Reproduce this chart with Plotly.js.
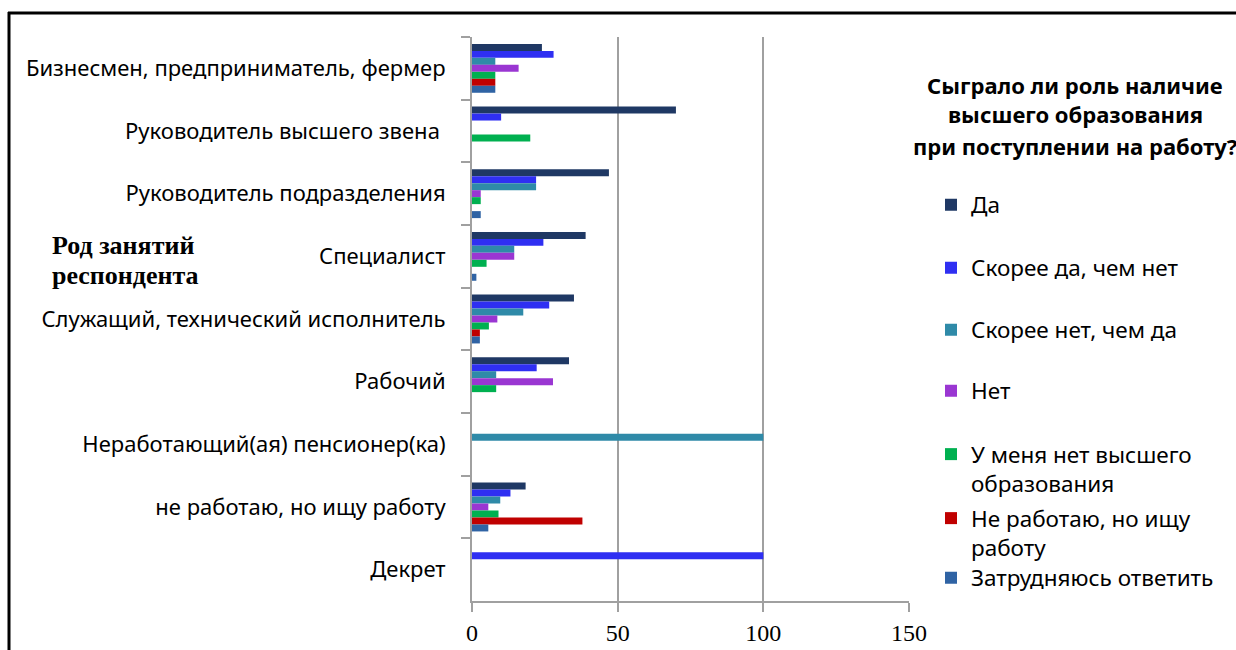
<!DOCTYPE html>
<html>
<head>
<meta charset="utf-8">
<script src="https://cdn.plot.ly/plotly-3.0.1.min.js"></script>
<style>
html,body{margin:0;padding:0;background:#fff;}
#chart{width:1236px;height:650px;}
</style>
</head>
<body>
<div id="chart"></div>
<script>
const categories = [
  "Бизнесмен, предприниматель, фермер",
  "Руководитель высшего звена\u00a0",
  "Руководитель подразделения",
  "Специалист",
  "Служащий, технический исполнитель",
  "Рабочий",
  "Неработающий(ая) пенсионер(ка)",
  "не работаю, но ищу работу",
  "Декрет"
];
const seriesNames = [
  "Да",
  "Скорее да, чем нет",
  "Скорее нет, чем да",
  "Нет",
  "У меня нет высшего<br>образования",
  "Не работаю, но ищу<br>работу",
  "Затрудняюсь ответить"
];
const da         = [24, 70, 47, 39,   35,   33.3, 0,   18.4, 0];
const skoreeDa   = [28, 10, 22, 24.5, 26.5, 22.2, 0,   13.2, 100];
const skoreeNet  = [8,  0,  22, 14.5, 17.6, 8.3,  100, 9.7,  0];
const net        = [16, 0,  3,  14.5, 8.7,  27.8, 0,   5.6,  0];
const noHigher   = [8,  20, 3,  5,    5.8,  8.3,  0,   9.1,  0];
const notWorking = [8,  0,  0,  0,    2.7,  0,    0,   37.9, 0];
const hardToSay  = [8,  0,  3,  1.5,  2.7,  0,    0,   5.6,  0];
const xTicks = [0, 50, 100, 150];
const legendTitleLines = ["Сыграло ли роль наличие", "высшего образования", "при поступлении на работу?"];
const yTitleLines = ["Род занятий", "респондента"];

const seriesValues = [da, skoreeDa, skoreeNet, net, noHigher, notWorking, hardToSay];
const colors = ["#1f3864", "#2f2ff2", "#2f8aa8", "#9a36d2", "#00b050", "#c00000", "#2f63a4"];
const legendCenters = [205, 268, 330, 391, 469, 533, 578];

const W = 1236, H = 650;
const px = x => x / W;
const py = y => 1 - y / H;
const sans = "Noto Sans";

const traces = seriesValues.map((vals, i) => ({
  type: "bar",
  orientation: "h",
  name: seriesNames[i],
  x: vals,
  y: categories,
  marker: {color: colors[i]},
  legend: i === 0 ? "legend" : "legend" + (i + 1),
  hoverinfo: "x+name"
}));

const layout = {
  width: W, height: H,
  margin: {l: 0, r: 0, t: 0, b: 0},
  paper_bgcolor: "#fff",
  plot_bgcolor: "#fff",
  barmode: "group",
  bargap: 0.22,
  bargroupgap: 0,
  font: {family: sans, color: "#000"},
  xaxis: {
    domain: [px(472), px(909)],
    range: [0, 150],
    tickvals: xTicks,
    ticktext: xTicks.map(String),
    ticks: "outside", ticklen: 9, tickwidth: 2, tickcolor: "#a0a0a0",
    showline: true, linecolor: "#a0a0a0", linewidth: 2,
    showgrid: true, gridcolor: "#a0a0a0", gridwidth: 2,
    zeroline: false,
    tickfont: {family: "Liberation Serif", size: 24, color: "#000"},
    fixedrange: true
  },
  yaxis: {
    domain: [py(601), py(37)],
    type: "category",
    autorange: "reversed",
    tickson: "boundaries",
    ticks: "outside", ticklen: 9, tickwidth: 2, tickcolor: "#a0a0a0",
    showline: true, linecolor: "#a0a0a0", linewidth: 2,
    showgrid: false, zeroline: false,
    ticklabelstandoff: 20,
    tickfont: {family: sans, size: 22, color: "#000"},
    fixedrange: true
  },
  shapes: [
    {type: "line", xref: "paper", yref: "paper", x0: px(9), x1: px(9), y0: py(12), y1: py(650), line: {color: "#000", width: 3}},
    {type: "line", xref: "paper", yref: "paper", x0: px(8), x1: px(1236), y0: py(13), y1: py(13), line: {color: "#000", width: 3}}
  ],
  annotations: [],
  showlegend: true
};

legendTitleLines.forEach((t, i) => {
  layout.annotations.push({
    xref: "paper", yref: "paper", x: px(1075), y: py([85, 114, 146][i]),
    xanchor: "center", yanchor: "middle", showarrow: false,
    text: "<b>" + t + "</b>", font: {family: sans, size: 22, color: "#000"}
  });
});
yTitleLines.forEach((t, i) => {
  layout.annotations.push({
    xref: "paper", yref: "paper", x: px(50), y: py([245, 275][i]),
    xanchor: "left", yanchor: "middle", showarrow: false,
    text: "<b>" + t + "</b>", font: {family: "Liberation Serif", size: 26, color: "#000"}
  });
});

legendCenters.forEach((c, i) => {
  const key = i === 0 ? "legend" : "legend" + (i + 1);
  layout[key] = {
    x: px(931), y: py(c), xanchor: "left", yanchor: "middle",
    bgcolor: "rgba(0,0,0,0)", borderwidth: 0,
    font: {family: sans, size: 22.5, color: "#000"},
    valign: "top", itemclick: false, itemdoubleclick: false
  };
});

Plotly.newPlot("chart", traces, layout, {displayModeBar: false, staticPlot: true});
</script>
</body>
</html>
